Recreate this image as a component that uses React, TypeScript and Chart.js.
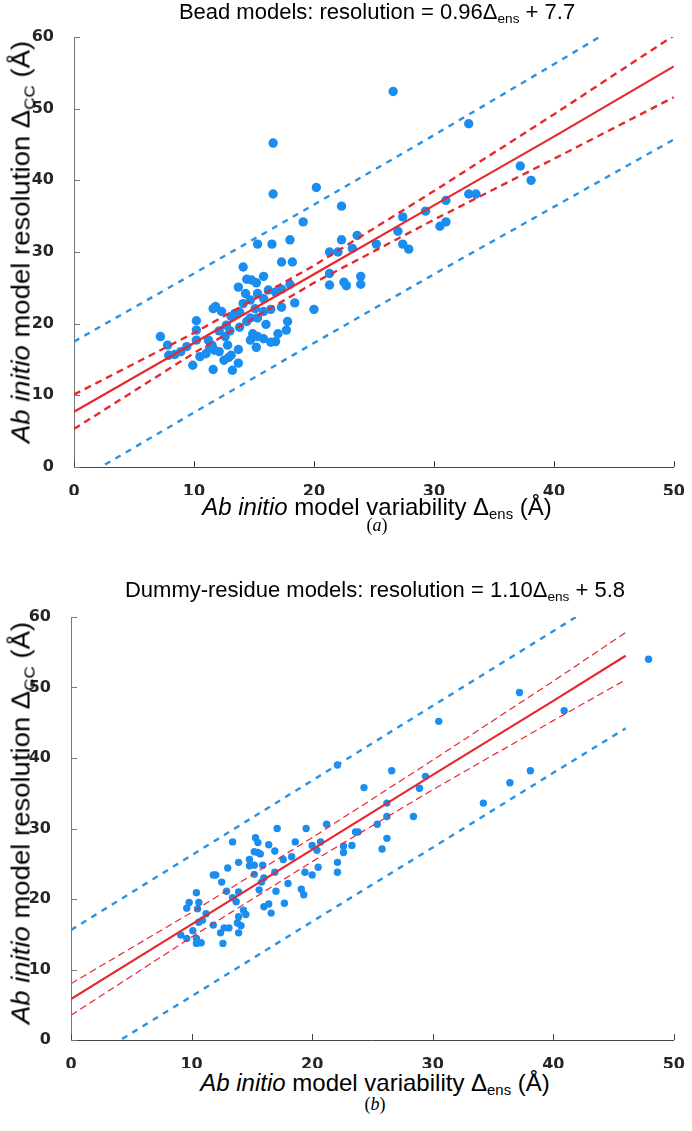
import React, { useEffect, useRef } from "react";
import { Chart, registerables } from "chart.js";
Chart.register(...registerables);

// ---------- shared axis values ----------
const xTickValues = [0, 10, 20, 30, 40, 50];
const yTickValues = [0, 10, 20, 30, 40, 50, 60];

// ---------- (a) Bead models ----------
const beadX = [
  16.6, 16.6, 20.2, 22.3, 19.1, 15.3, 16.5, 18.0, 22.3, 23.6, 23.2, 21.3, 22.0, 25.2, 17.3, 18.2,
  26.6, 32.9, 37.2, 38.1, 32.9, 33.5, 31.0, 29.3, 27.4, 27.0, 30.5, 31.0, 27.4, 27.9, 23.9, 23.9,
  7.2, 7.8, 7.9, 8.4, 8.9, 9.4, 10.2, 10.2, 10.2, 9.9, 10.5, 11.0, 11.2, 11.5, 11.6, 11.8, 12.3,
  11.6, 11.7, 12.1, 12.5, 12.6, 12.8, 13.1, 13.2, 13.7, 13.7, 12.7, 13.1, 13.4, 13.8, 13.8, 14.1,
  14.1, 13.7, 14.4, 14.8, 15.2, 15.3, 15.8, 14.7, 15.1, 14.7, 15.3, 15.8, 16.2, 16.4, 16.8, 18.0,
  18.4, 17.3, 17.8, 17.7, 17.0, 16.8, 16.4, 15.8, 15.3, 14.9, 14.7, 15.2, 20.0, 21.3, 21.3, 22.5,
  22.7, 12.1, 13.0, 14.4, 16.0, 11.3, 12.9, 14.3, 15.8, 17.3,
];
const beadY = [
  45.2, 38.1, 39.0, 36.4, 34.2, 31.1, 31.1, 31.7, 31.7, 32.3, 30.5, 30.0, 30.0, 31.1, 28.6, 28.6,
  52.4, 47.9, 42.0, 40.0, 38.1, 38.1, 37.2, 35.7, 34.9, 32.9, 33.6, 34.2, 31.1, 30.4, 26.6, 25.5,
  18.2, 17.0, 15.6, 15.7, 16.1, 16.8, 20.4, 19.1, 17.7, 14.2, 15.4, 15.8, 17.7, 17.0, 22.1, 22.4, 21.7,
  13.6, 16.3, 16.1, 14.9, 18.2, 17.0, 15.6, 13.5, 14.5, 16.4, 19.8, 21.0, 21.4, 19.5, 21.6, 22.8,
  27.9, 25.1, 26.2, 26.1, 25.7, 24.2, 26.6, 23.3, 22.1, 20.8, 20.8, 21.7, 24.7, 22.0, 24.4, 25.5,
  22.9, 22.3, 20.3, 19.1, 18.6, 17.5, 17.4, 17.9, 18.2, 18.6, 17.7, 16.7, 22.0, 25.4, 27.0, 25.8,
  25.3, 19.0, 19.0, 20.3, 19.9, 16.6, 15.3, 24.2, 23.5, 24.8,
];
const beadLineX = [0, 10, 20, 30, 40, 50];
const beadFit = [7.7, 17.3, 26.9, 36.5, 46.1, 55.9];
const beadConfUpper = [10.1, 18.7, 28.1, 38.5, 49.2, 60.2];
const beadConfLower = [5.3, 15.9, 25.7, 34.5, 43.0, 51.6];
const beadPredUpper = [17.5, 27.0, 36.6, 46.3, 56.2, 66.2];
const beadPredLower = [-2.2, 7.6, 17.3, 26.9, 36.3, 45.7];

// ---------- (b) Dummy-residue models ----------
const dummyX = [
  22.1, 24.3, 47.9, 37.2, 40.9, 30.5, 26.6, 29.4, 28.9, 36.4, 38.1, 34.2, 26.2, 26.2, 28.4, 25.4,
  26.2, 25.8, 23.8, 17.1, 19.5, 21.2, 23.6, 13.4, 15.3, 15.5, 16.4, 16.9, 18.6, 20.0, 20.7, 20.4,
  15.2, 15.5, 15.7, 17.6, 18.3, 13.9, 13.0, 14.8, 14.8, 15.2, 15.2, 15.9, 11.8, 12.0, 12.5, 16.9,
  19.4, 20.0, 20.5, 22.1, 22.1, 22.6, 22.6, 23.3, 18.0, 19.1, 19.3, 16.0, 15.8, 15.6, 17.0, 17.7,
  16.0, 16.4, 16.6, 12.9, 13.4, 13.7, 13.9, 10.4, 9.8, 9.6, 10.6, 10.5, 11.2, 10.9, 10.6, 14.3,
  14.5, 13.9, 13.8, 14.1, 13.9, 9.1, 9.6, 10.1, 10.4, 10.4, 10.8, 11.8, 12.4, 12.7, 13.1, 12.6,
];
const dummyY = [
  39.0, 35.8, 54.0, 49.3, 46.7, 45.2, 38.2, 37.4, 35.7, 36.5, 38.2, 33.6, 33.6, 31.7, 31.7, 30.6,
  28.6, 27.1, 29.5, 30.0, 30.0, 30.6, 29.5, 28.1, 28.7, 28.0, 27.7, 26.8, 28.1, 27.6, 28.1, 26.9,
  26.7, 26.6, 26.4, 25.6, 26.0, 25.2, 24.4, 25.6, 24.7, 24.8, 23.5, 24.8, 23.4, 23.4, 22.4, 23.8,
  23.8, 23.4, 24.5, 25.2, 23.8, 26.6, 27.5, 27.6, 22.2, 21.4, 20.6, 23.0, 22.4, 21.3, 21.1, 19.4,
  18.9, 19.3, 18.0, 21.1, 20.2, 19.6, 21.0, 20.9, 19.5, 18.7, 19.5, 18.6, 17.9, 17.0, 16.7, 18.4,
  17.8, 17.5, 16.6, 16.2, 15.2, 14.9, 14.4, 15.5, 14.4, 13.7, 13.8, 16.3, 15.2, 15.9, 15.9, 13.7,
];
const dummyLineX = [0, 10, 20, 30, 40, 46];
const dummyFit = [5.8, 16.4, 27.0, 37.6, 48.1, 54.5];
const dummyConfUpper = [8.0, 18.1, 28.7, 39.7, 50.9, 57.8];
const dummyConfLower = [3.5, 14.6, 25.3, 35.5, 45.3, 51.1];
const dummyPredUpper = [15.6, 26.2, 36.8, 47.4, 58.0, 64.4];
const dummyPredLower = [-4.3, 6.2, 16.8, 27.3, 37.9, 44.2];

// ---------- styles ----------
const BLUE = "#1a8ef0";
const BLUE_LINE = "#2a92e2";
const RED = "#e8282a";

const pts = (xs: number[], ys: number[]) => xs.map((x, i) => ({ x, y: ys[i] }));

const inwardTicks = {
  id: "inwardTicks",
  afterDatasetsDraw(chart: any) {
    const { ctx, chartArea, scales } = chart;
    const xs = scales.x;
    const ys = scales.y;
    ctx.save();
    ctx.lineWidth = 1;
    ctx.strokeStyle = "#444";
    xs.ticks.forEach((t: any) => {
      const px = Math.round(xs.getPixelForValue(t.value)) + 0.5;
      ctx.beginPath();
      ctx.moveTo(px, chartArea.bottom);
      ctx.lineTo(px, chartArea.bottom - 6);
      ctx.stroke();
    });
    ctx.strokeStyle = "#777";
    ys.ticks.forEach((t: any) => {
      const py = Math.round(ys.getPixelForValue(t.value)) + 0.5;
      ctx.beginPath();
      ctx.moveTo(chartArea.left, py);
      ctx.lineTo(chartArea.left + 6, py);
      ctx.stroke();
    });
    ctx.restore();
  },
};

type PanelProps = {
  top: number;
  height: number;
  yWidth: number;
  rightPad: number;
  px: number[];
  py: number[];
  lineX: number[];
  fit: number[];
  confU: number[];
  confL: number[];
  predU: number[];
  predL: number[];
  pointRadius: number;
  confWidth: number;
  confDash: number[];
};

function Panel(p: PanelProps) {
  const ref = useRef<HTMLCanvasElement | null>(null);
  useEffect(() => {
    if (!ref.current) return;
    const lineDs = (ys: number[], color: string, width: number, dash: number[]) => ({
      type: "scatter" as const,
      data: pts(p.lineX, ys),
      showLine: true,
      borderColor: color,
      backgroundColor: color,
      borderWidth: width,
      borderDash: dash,
      pointRadius: 0,
      pointHoverRadius: 0,
      tension: 0,
    });
    const chart = new Chart(ref.current, {
      type: "scatter",
      data: {
        datasets: [
          lineDs(p.fit, RED, 2.2, []),
          lineDs(p.confU, RED, p.confWidth, p.confDash),
          lineDs(p.confL, RED, p.confWidth, p.confDash),
          lineDs(p.predU, BLUE_LINE, 2.4, [6, 6]),
          lineDs(p.predL, BLUE_LINE, 2.4, [6, 6]),
          {
            type: "scatter" as const,
            data: pts(p.px, p.py),
            backgroundColor: BLUE,
            borderColor: BLUE,
            borderWidth: 0,
            pointRadius: p.pointRadius,
            pointHoverRadius: p.pointRadius,
          },
        ],
      },
      options: {
        animation: false,
        responsive: false,
        maintainAspectRatio: false,
        devicePixelRatio: 1,
        layout: { padding: { top: 37, right: p.rightPad, left: 0, bottom: 0 } },
        plugins: { legend: { display: false }, tooltip: { enabled: false }, title: { display: false } },
        scales: {
          x: {
            type: "linear",
            min: 0,
            max: 50,
            afterFit: (s: any) => {
              s.height = 28;
            },
            afterBuildTicks: (s: any) => {
              s.ticks = xTickValues.map((v) => ({ value: v }));
            },
            grid: { display: false },
            border: { display: true, color: "#444", width: 1 },
            ticks: {
              padding: 7,
              color: "#262626",
              font: { family: "DejaVu Sans", weight: "bold", size: 16 },
              maxRotation: 0,
            },
          },
          y: {
            type: "linear",
            min: 0,
            max: 60,
            afterFit: (s: any) => {
              s.width = p.yWidth;
            },
            afterBuildTicks: (s: any) => {
              s.ticks = yTickValues.map((v) => ({ value: v }));
            },
            grid: { display: false },
            border: { display: true, color: "#777", width: 1 },
            ticks: {
              padding: 12,
              color: "#262626",
              font: { family: "DejaVu Sans", weight: "bold", size: 16 },
            },
          },
        },
      },
      plugins: [inwardTicks],
    } as any);
    return () => chart.destroy();
  }, []);
  return (
    <canvas
      ref={ref}
      width={692}
      height={p.height}
      style={{ position: "absolute", left: 0, top: p.top, width: 692, height: p.height }}
    />
  );
}

const sub = (t: string) => (
  <span style={{ fontSize: "0.62em", position: "relative", top: "0.3em" }}>{t}</span>
);

function Centered(props: {
  x: number;
  y: number;
  size: number;
  rotate?: boolean;
  stretch?: number;
  serif?: boolean;
  children: any;
}) {
  const rot = props.rotate ? ` rotate(-90deg) scaleX(${props.stretch ?? 1})` : "";
  return (
    <div
      style={{
        position: "absolute",
        left: props.x,
        top: props.y,
        transform: `translate(-50%, -50%)${rot}`,
        whiteSpace: "nowrap",
        fontSize: props.size,
        lineHeight: 1,
        fontFamily: props.serif ? '"Liberation Serif", serif' : '"Liberation Sans", Arial, sans-serif',
        color: "#000",
      }}
    >
      {props.children}
    </div>
  );
}

export default function App() {
  return (
    <div style={{ position: "absolute", left: 0, top: 0, width: 692, height: 1131, background: "#fff" }}>
      <Panel
        top={0}
        height={495}
        yWidth={74}
        rightPad={12}
        px={beadX}
        py={beadY}
        lineX={beadLineX}
        fit={beadFit}
        confU={beadConfUpper}
        confL={beadConfLower}
        predU={beadPredUpper}
        predL={beadPredLower}
        pointRadius={4.7}
        confWidth={2.4}
        confDash={[7, 5]}
      />
      <Centered x={377} y={12} size={22}>
        Bead models: resolution = 0.96Δ{sub("ens")} + 7.7
      </Centered>
      <Centered x={21} y={242} size={25} rotate stretch={1.1}>
        <i>Ab initio</i> model resolution Δ{sub("CC")} (Å)
      </Centered>
      <Centered x={377} y={507} size={24}>
        <i>Ab initio</i> model variability Δ{sub("ens")} (Å)
      </Centered>
      <Centered x={377} y={525} size={18} serif>
        (<i>a</i>)
      </Centered>

      <Panel
        top={580}
        height={488}
        yWidth={71}
        rightPad={14}
        px={dummyX}
        py={dummyY}
        lineX={dummyLineX}
        fit={dummyFit}
        confU={dummyConfUpper}
        confL={dummyConfLower}
        predU={dummyPredUpper}
        predL={dummyPredLower}
        pointRadius={3.7}
        confWidth={1.2}
        confDash={[7, 4]}
      />
      <Centered x={375} y={590} size={22}>
        Dummy-residue models: resolution = 1.10Δ{sub("ens")} + 5.8
      </Centered>
      <Centered x={21} y={823} size={25} rotate stretch={1.1}>
        <i>Ab initio</i> model resolution Δ{sub("CC")} (Å)
      </Centered>
      <Centered x={375} y={1083} size={24}>
        <i>Ab initio</i> model variability Δ{sub("ens")} (Å)
      </Centered>
      <Centered x={375} y={1104} size={18} serif>
        (<i>b</i>)
      </Centered>
    </div>
  );
}
